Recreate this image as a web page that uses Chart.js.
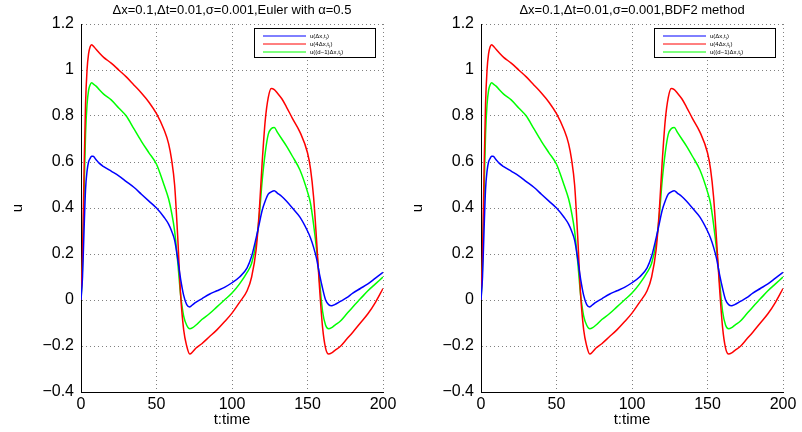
<!DOCTYPE html>
<html>
<head>
<meta charset="utf-8">
<script src="https://cdn.jsdelivr.net/npm/chart.js@4"></script>
<style>
html, body { margin: 0; padding: 0; background: #fff; }
.panel { position: absolute; top: 0; width: 401px; height: 432px; }
</style>
</head>
<body>
<div class="panel" style="left:0"><canvas id="chartEuler"></canvas></div>
<div class="panel" style="left:400px"><canvas id="chartBDF2"></canvas></div>
<script>
// time grid (t) and the three solution traces
const times = [0, 1, 2, 3, 4, 5, 6, 7, 8, 10, 12, 15, 20, 25, 30, 35, 40, 45, 50, 55, 58, 60, 62, 64, 66, 68, 70, 72, 74, 76, 80, 85, 90, 95, 100, 105, 110, 113, 116, 118, 120, 122, 124, 126, 128, 130, 133, 136, 140, 145, 150, 152, 154, 156, 158, 160, 162, 164, 166, 168, 172, 176, 180, 185, 190, 195, 200];

const uFirst = [0, 0.1, 0.3, 0.48, 0.56, 0.6, 0.615, 0.625, 0.625, 0.61, 0.595, 0.58, 0.56, 0.54, 0.515, 0.49, 0.46, 0.43, 0.4, 0.36, 0.33, 0.3, 0.26, 0.18, 0.09, 0.02, -0.02, -0.03, -0.02, -0.01, 0.005, 0.025, 0.04, 0.055, 0.075, 0.1, 0.14, 0.19, 0.27, 0.33, 0.39, 0.43, 0.46, 0.47, 0.475, 0.465, 0.45, 0.43, 0.4, 0.36, 0.3, 0.27, 0.23, 0.18, 0.11, 0.05, 0, -0.02, -0.025, -0.02, -0.005, 0.01, 0.03, 0.05, 0.07, 0.095, 0.12];

const uFourth = [0, 0.2, 0.55, 0.85, 1.0, 1.07, 1.1, 1.11, 1.105, 1.09, 1.075, 1.055, 1.03, 1.0, 0.97, 0.935, 0.9, 0.86, 0.81, 0.74, 0.68, 0.61, 0.5, 0.28, 0.02, -0.13, -0.2, -0.235, -0.225, -0.21, -0.19, -0.16, -0.13, -0.095, -0.057, -0.01, 0.04, 0.1, 0.22, 0.38, 0.6, 0.78, 0.88, 0.92, 0.915, 0.9, 0.875, 0.84, 0.79, 0.73, 0.64, 0.57, 0.45, 0.26, 0.05, -0.12, -0.21, -0.235, -0.23, -0.22, -0.2, -0.17, -0.14, -0.1, -0.06, -0.01, 0.05];

const uLast = [0, 0.15, 0.45, 0.72, 0.85, 0.91, 0.935, 0.945, 0.94, 0.93, 0.915, 0.895, 0.87, 0.835, 0.8, 0.745, 0.69, 0.64, 0.59, 0.5, 0.44, 0.38, 0.3, 0.17, 0.02, -0.07, -0.11, -0.125, -0.12, -0.11, -0.085, -0.06, -0.03, 0, 0.03, 0.07, 0.12, 0.16, 0.25, 0.36, 0.52, 0.64, 0.72, 0.745, 0.75, 0.73, 0.7, 0.67, 0.625, 0.565, 0.47, 0.42, 0.33, 0.22, 0.08, -0.05, -0.11, -0.125, -0.12, -0.11, -0.09, -0.06, -0.03, 0.005, 0.04, 0.07, 0.1];

const legendMain = ['u(\u0394x,t', 'u(4\u0394x,t', 'u((d\u22121)\u0394x,t'];
const titles = ['\u0394x=0.1,\u0394t=0.01,\u03c3=0.001,Euler with \u03b1=0.5', '\u0394x=0.1,\u0394t=0.01,\u03c3=0.001,BDF2 method'];

const FONT = 'Liberation Sans, Arial, sans-serif';

function pts(vals) {
  return times.map((t, i) => ({ x: t, y: vals[i] }));
}

// legend box drawn inside the plot, top right
const legendBox = {
  id: 'legendBox',
  afterDatasetsDraw(chart) {
    const ctx = chart.ctx;
    const area = chart.chartArea;
    const w = 121, h = 29;
    const x = area.right - 8 - w;
    const y = area.top + 4;
    ctx.save();
    ctx.fillStyle = '#fff';
    ctx.fillRect(x, y, w, h);
    ctx.strokeStyle = '#000';
    ctx.lineWidth = 1;
    ctx.strokeRect(x + 0.5, y + 0.5, w, h);
    chart.data.datasets.forEach((ds, i) => {
      const ly = y + 8 + i * 8;
      ctx.strokeStyle = ds.borderColor;
      ctx.beginPath();
      ctx.moveTo(x + 9, ly);
      ctx.lineTo(x + 52, ly);
      ctx.stroke();
      ctx.fillStyle = '#000';
      ctx.textBaseline = 'middle';
      ctx.font = '6px ' + FONT;
      const main = legendMain[i];
      ctx.fillText(main, x + 56, ly);
      const mw = ctx.measureText(main).width;
      ctx.font = '4px ' + FONT;
      ctx.fillText('j', x + 56 + mw, ly + 2);
      const jw = ctx.measureText('j').width;
      ctx.font = '6px ' + FONT;
      ctx.fillText(')', x + 56 + mw + jw + 0.5, ly);
    });
    ctx.restore();
  }
};

function makeChart(id, title) {
  const ctx = document.getElementById(id).getContext('2d');
  return new Chart(ctx, {
    type: 'line',
    data: {
      datasets: [
        { label: legendMain[0], data: pts(uFirst), borderColor: '#0000ff' },
        { label: legendMain[1], data: pts(uFourth), borderColor: '#ff0000' },
        { label: legendMain[2], data: pts(uLast), borderColor: '#00ff00' }
      ]
    },
    options: {
      responsive: true,
      maintainAspectRatio: false,
      animation: false,
      parsing: false,
      layout: { padding: { left: 0, right: 18, top: 0, bottom: 0 } },
      elements: {
        point: { radius: 0 },
        line: { borderWidth: 1.5, cubicInterpolationMode: 'monotone', fill: false }
      },
      plugins: {
        legend: { display: false },
        tooltip: { enabled: false },
        title: {
          display: true,
          text: title,
          fullSize: false,
          color: '#000',
          font: { family: FONT, size: 13, weight: 'normal' },
          padding: { top: 2.5, bottom: 5.9 }
        }
      },
      scales: {
        x: {
          type: 'linear',
          min: 0,
          max: 200,
          afterFit(scale) { scale.height = 40; },
          ticks: {
            stepSize: 50,
            color: '#000',
            padding: 3,
            maxRotation: 0,
            font: { family: FONT, size: 16 }
          },
          grid: { color: '#808080', lineWidth: 1, drawTicks: false },
          border: { color: '#000', width: 1, dash: [1, 3] },
          title: {
            display: true,
            text: 't:time',
            color: '#000',
            font: { family: FONT, size: 15 },
            padding: { top: 0, bottom: 3 }
          }
        },
        y: {
          min: -0.4,
          max: 1.2,
          afterFit(scale) { scale.width = 81; },
          ticks: {
            stepSize: 0.2,
            color: '#000',
            padding: 7,
            font: { family: FONT, size: 16 },
            callback: (v) => {
              const r = Math.round(v * 10) / 10;
              return r < 0 ? '\u2212' + Math.abs(r) : String(r);
            }
          },
          grid: { color: '#808080', lineWidth: 1, drawTicks: false },
          border: { color: '#000', width: 1, dash: [1, 3] },
          title: {
            display: true,
            text: 'u',
            color: '#000',
            font: { family: FONT, size: 15 },
            padding: { top: 9, bottom: 0 }
          }
        }
      }
    },
    plugins: [legendBox]
  });
}

makeChart('chartEuler', titles[0]);
makeChart('chartBDF2', titles[1]);
</script>
</body>
</html>
